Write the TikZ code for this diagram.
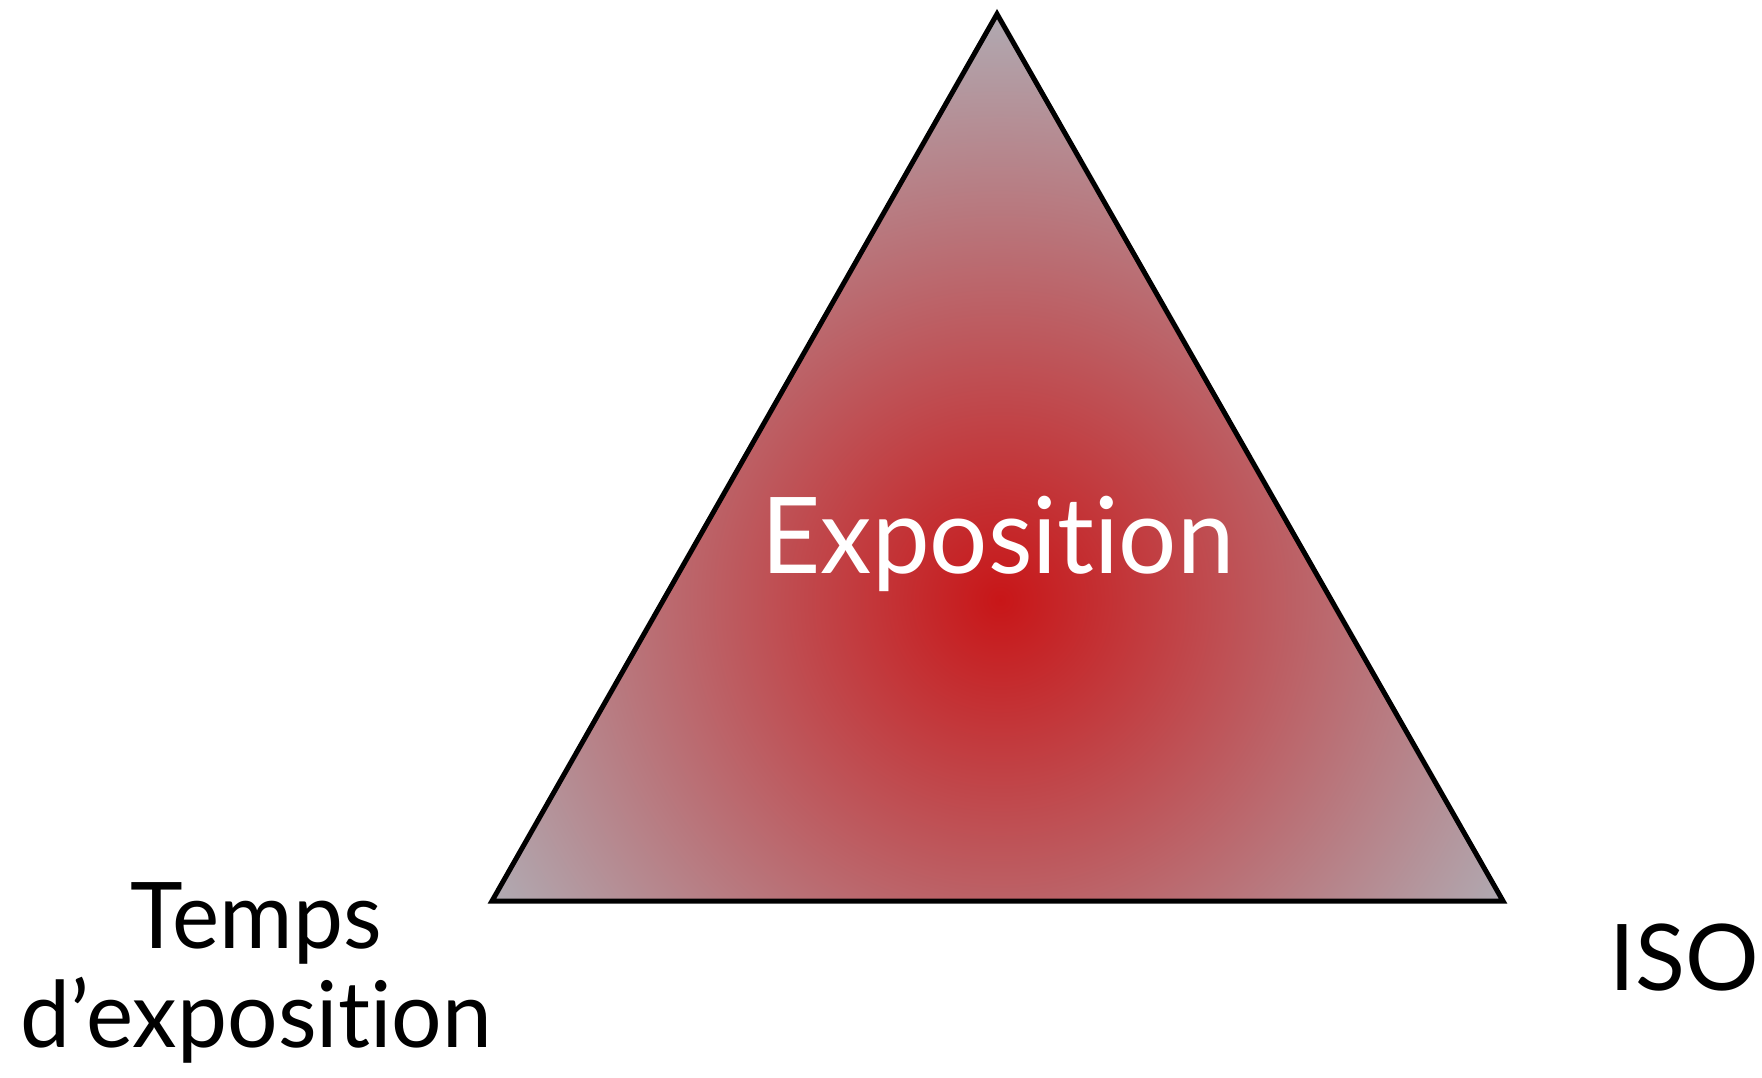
\documentclass[tikz,border=0pt]{standalone}
\usepackage{fontspec}
\setmainfont{Lato}[Ligatures={NoCommon}]
\usepackage{tikz}
\usepackage{xcolor}
\usetikzlibrary{positioning,calc}
\definecolor{cCore}{RGB}{200,22,24}
\definecolor{cEdge}{RGB}{176,172,180}
\definecolor{cInk}{RGB}{0,0,0}

\begin{document}
\begin{tikzpicture}[
  x=1pt, y=-1pt,
  lbl/.style={inner sep=0pt, text=cInk, align=center},
  big/.style={lbl, text=white, font=\fontsize{106}{106}\selectfont},
  side/.style={lbl, font=\fontsize{92}{99}\selectfont},
  tri/.style={draw=cInk, line width=5pt, line join=miter}]

\useasboundingbox (0,0) rectangle (1762,1078);

% ================= triangle =================
\coordinate (top) at (997,14);
\coordinate (bl) at (492,901);
\coordinate (br) at (1503,901);
\coordinate (mid) at (1000,600);

\begin{scope}
  \clip (top) -- (bl) -- (br) -- cycle;
  \shade[inner color=cCore, outer color=cEdge] (mid) circle (595);
\end{scope}
\draw[tri] (top) -- (bl) -- (br) -- cycle;

% ---- labels ----
\node[big, anchor=base, xscale=0.97] (expo) at (998,573) {Exposition};
\node[side, anchor=base, xscale=0.97] (temps) at (256,1047) {Temps\\d’exposition};
\node[side, anchor=base east] (iso) at (1759,990) {ISO};
\end{tikzpicture}
\end{document}
